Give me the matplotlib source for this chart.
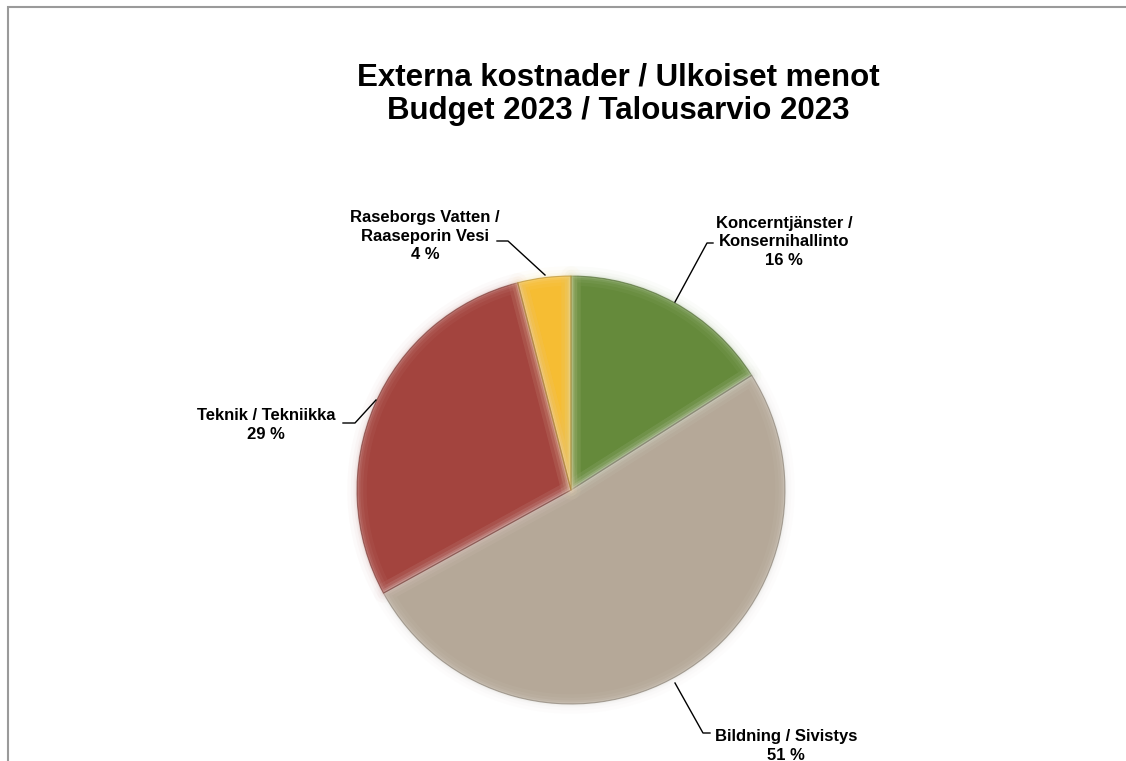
import matplotlib
matplotlib.use("Agg")
import matplotlib.pyplot as plt
from matplotlib.patches import Rectangle
import matplotlib.colors as mcolors
import copy

plt.rcParams['font.family'] = ['Liberation Sans', 'DejaVu Sans']

# ---- data ----
categories = ["Koncerntjänster /\nKonsernihallinto", "Bildning / Sivistys",
              "Teknik / Tekniikka", "Raseborgs Vatten /\nRaaseporin Vesi"]
values = [16, 51, 29, 4]
colors = ["#658a3b", "#b5a898", "#a3443e", "#f6bd33"]
title_lines = ["Externa kostnader / Ulkoiset menot", "Budget 2023 / Talousarvio 2023"]

W, H = 1126, 761
fig = plt.figure(figsize=(W / 100, H / 100), dpi=100)
ax = fig.add_axes([0, 0, 1, 1])

def P(x, y):
    return (x, H - y)

cx, cy = P(571, 490)
R = 214
wedges, _ = ax.pie(values, colors=colors, startangle=90, counterclock=False,
                   center=(cx, cy), radius=R,
                   wedgeprops=dict(edgecolor="none", linewidth=0))

# soft bevel-like highlight
for w, c in zip(wedges, colors):
    rgb = mcolors.to_rgb(c)
    light = tuple(min(1, v + (1 - v) * 0.6) for v in rgb)
    dark = tuple(v * 0.7 for v in rgb)
    for lw, a in [(14, 0.06), (9, 0.08), (5, 0.12), (2.5, 0.2)]:
        hl = copy.copy(w)
        hl.set_facecolor("none")
        hl.set_edgecolor(light)
        hl.set_linewidth(lw)
        hl.set_alpha(a)
        hl.set_joinstyle('round')
        ax.add_patch(hl)
        hl.set_clip_path(w)
    hl2 = copy.copy(w)
    hl2.set_facecolor("none")
    hl2.set_edgecolor(dark)
    hl2.set_linewidth(0.8)
    hl2.set_alpha(0.6)
    hl2.set_joinstyle('round')
    ax.add_patch(hl2)
    hl2.set_clip_path(w)

ax.set_xlim(0, W)
ax.set_ylim(0, H)
ax.set_aspect('equal')
ax.axis('off')

# title
ax.text(*P(618, 78), title_lines[0], ha='center', va='center',
        fontsize=22.5, fontweight='bold', color='black')
ax.text(*P(618, 111), title_lines[1], ha='center', va='center',
        fontsize=22.5, fontweight='bold', color='black')

# labels
label_pos = [(784, 242), (786, 746), (266, 425), (425, 236)]
leaders = [
    [(713, 243), (707, 243), (675, 302)],
    [(710, 733), (703, 733), (675, 683)],
    [(343, 423), (355, 423), (376, 400)],
    [(497, 241), (508, 241), (545, 275)],
]
for cat, v, (lx, ly), pts in zip(categories, values, label_pos, leaders):
    ax.text(*P(lx, ly), f"{cat}\n{v} %", ha='center', va='center',
            fontsize=12, fontweight='bold', color='black', linespacing=1.3)
    xs = [p[0] for p in pts]
    ys = [H - p[1] for p in pts]
    ax.plot(xs, ys, color='black', lw=1.0)

# border
ax.add_patch(Rectangle(P(8, 1000), 1400, 993, fill=False, edgecolor="#9a9a9a",
                       lw=1.5, clip_on=False))

fig.savefig("out.png", dpi=100)
